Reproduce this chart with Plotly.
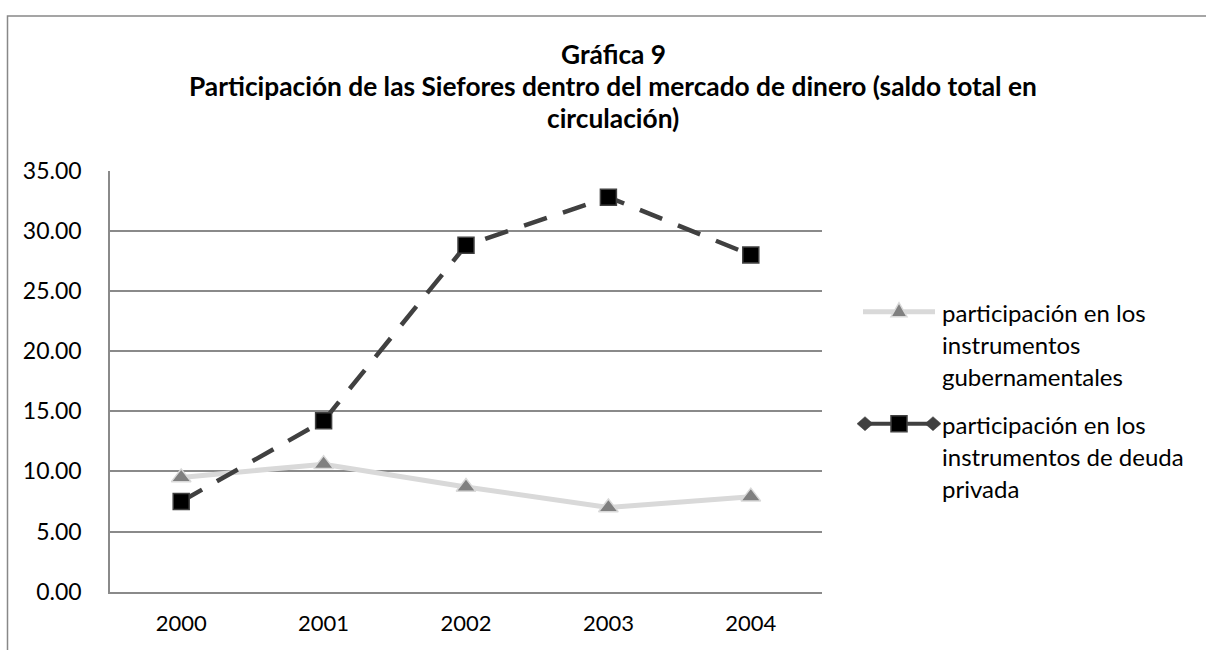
import plotly.graph_objects as go

# ---- data ----
years = ["2000", "2001", "2002", "2003", "2004"]
gov_values = [9.5, 10.6, 8.7, 7.0, 7.9]
private_values = [7.5, 14.2, 28.8, 32.8, 28.0]
series_names = [
    "participación en los instrumentos gubernamentales",
    "participación en los instrumentos de deuda privada",
]
title_lines = [
    "Gráfica 9",
    "Participación de las Siefores dentro del mercado de dinero (saldo total en",
    "circulación)",
]
legend_lines_gov = ["participación en los", "instrumentos", "gubernamentales"]
legend_lines_priv = ["participación en los", "instrumentos de deuda", "privada"]

W, H = 1206, 650
FONT = "Lato, 'Open Sans', sans-serif"
GRID = "#8a8a8a"
GOV_LINE = "#d9d9d9"
GOV_MARK = "#808080"
PRIV = "#404040"

# the photographed page shows a small vertical offset/squeeze; compensate
VS, VO = 0.957, 14.3


def px(x):
    return x / W


def py(y):
    return 1 - ((y - VO) / VS) / H


fig = go.Figure()

fig.add_trace(go.Scatter(
    x=years, y=gov_values, name=series_names[0], mode="lines+markers",
    line=dict(color=GOV_LINE, width=5),
    marker=dict(symbol="triangle-up", size=17, color=GOV_MARK,
                line=dict(color=GOV_LINE, width=1.5)),
    showlegend=False,
))
fig.add_trace(go.Scatter(
    x=years, y=private_values, name=series_names[1], mode="lines+markers",
    line=dict(color=PRIV, width=4.5, dash="24px,17px"),
    marker=dict(symbol="square", size=16, color="#000000",
                line=dict(color=PRIV, width=1.5)),
    showlegend=False,
))

shapes = []
# chart-area border (cropped on right and bottom)
shapes.append(dict(type="rect", xref="paper", yref="paper",
                   x0=px(7.5), x1=px(1230), y0=-0.1, y1=1 - 1.0 / H,
                   line=dict(color="#888888", width=1.5), fillcolor="rgba(0,0,0,0)",
                   layer="below"))

# custom legend: gov
ly1 = 311
shapes.append(dict(type="line", xref="paper", yref="paper",
                   x0=px(863), x1=px(935), y0=py(ly1), y1=py(ly1),
                   line=dict(color=GOV_LINE, width=5)))
tx, ty, r = 899, ly1, 8
shapes.append(dict(type="path", xref="paper", yref="paper",
                   path=f"M {px(tx - r)},{py(ty + 5)} L {px(tx + r)},{py(ty + 5)} L {px(tx)},{py(ty - 9)} Z",
                   fillcolor=GOV_MARK, line=dict(color=GOV_LINE, width=1.5)))

# custom legend: private
ly2 = 423
shapes.append(dict(type="line", xref="paper", yref="paper",
                   x0=px(865), x1=px(933), y0=py(ly2), y1=py(ly2),
                   line=dict(color=PRIV, width=4)))
for dx in (865, 933):
    shapes.append(dict(type="path", xref="paper", yref="paper",
                       path=f"M {px(dx - 8)},{py(ly2)} L {px(dx)},{py(ly2 - 7)} L {px(dx + 8)},{py(ly2)} L {px(dx)},{py(ly2 + 7)} Z",
                       fillcolor=PRIV, line=dict(color=PRIV, width=0.5)))
shapes.append(dict(type="rect", xref="paper", yref="paper",
                   x0=px(899 - 8), x1=px(899 + 8), y0=py(ly2 + 8), y1=py(ly2 - 8),
                   fillcolor="#000000", line=dict(color=PRIV, width=1.5)))

annotations = []
for i, t in enumerate(title_lines):
    annotations.append(dict(text=f"<b>{t}</b>", xref="paper", yref="paper",
                            x=px(613), y=py(53.5 + 32 * i), xanchor="center", yanchor="middle",
                            showarrow=False, font=dict(family=FONT, size=26.3, color="#000000")))
for i, t in enumerate(legend_lines_gov):
    annotations.append(dict(text=t, xref="paper", yref="paper",
                            x=px(940), y=py(312 + 32 * i), xanchor="left", yanchor="middle",
                            showarrow=False, font=dict(family=FONT, size=24, color="#000000")))
for i, t in enumerate(legend_lines_priv):
    annotations.append(dict(text=t, xref="paper", yref="paper",
                            x=px(940), y=py(424 + 32 * i), xanchor="left", yanchor="middle",
                            showarrow=False, font=dict(family=FONT, size=24, color="#000000")))

fig.update_layout(
    width=W, height=H, autosize=False,
    margin=dict(l=0, r=0, t=0, b=0),
    paper_bgcolor="white", plot_bgcolor="white",
    showlegend=False,
    font=dict(family=FONT, size=22, color="#000000"),
    shapes=shapes, annotations=annotations,
    xaxis=dict(domain=[px(110), px(822)], type="category", range=[-0.5, 4.5],
               showgrid=False, showline=True, linecolor=GRID, linewidth=1.5,
               ticks="", ticklabelstandoff=11, zeroline=False,
               tickfont=dict(family=FONT, size=22, color="#000000")),
    yaxis=dict(domain=[py(591), py(170)], range=[0, 35], dtick=5, tick0=0,
               tickformat=".2f", showgrid=True, gridcolor=GRID, gridwidth=1.5,
               showline=True, linecolor=GRID, linewidth=1.5, zeroline=False,
               ticks="", ticklabelstandoff=22,
               tickfont=dict(family=FONT, size=23, color="#000000")),
)

fig.write_html(
    "out.html",
    config={"displayModeBar": False},
    post_script=(
        "var gd=document.getElementById('{plot_id}');"
        "gd.style.position='fixed';gd.style.top='0px';gd.style.left='0px';"
        "document.body.style.margin='0';"
        "document.documentElement.style.overflow='hidden';"
        "document.body.style.overflow='hidden';"
    ),
)
